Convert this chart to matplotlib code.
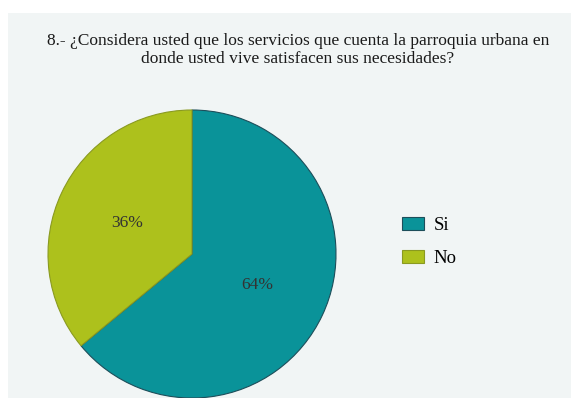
"""Pie chart: satisfaccion con los servicios de la parroquia urbana."""

import matplotlib.pyplot as plt
from matplotlib.patches import Rectangle

labels = ['Si', 'No']
shares = [64, 36]
colors = ['#0a9399', '#adc11c']
edges = ['#1d4e5a', '#8a9a20']

title = ('8.- ¿Considera usted que los servicios que cuenta la parroquia urbana en\n'
         'donde usted vive satisfacen sus necesidades?')

plt.rcParams['font.family'] = ['Liberation Serif', 'DejaVu Serif']

W, H = 571, 398
fig = plt.figure(figsize=(W / 100, H / 100), dpi=100)
fig.patch.set_facecolor('white')

# light panel behind everything
panel = Rectangle((8 / W, 0), 1, 1 - 13 / H, transform=fig.transFigure,
                  facecolor='#f1f5f5', edgecolor='none', zorder=-5)
fig.add_artist(panel)

fig.text(298 / W, 1 - 50 / H, title, ha='center', va='center',
         fontsize=12.5, color='#1a1a1a', linespacing=1.15)

# pie axes: centre (192, 254) px, radius 144 px
r = 144
cx, cy = 192, H - 254
ax = fig.add_axes([(cx - r) / W, (cy - r) / H, 2 * r / W, 2 * r / H])
ax.patch.set_visible(False)
ax.set_zorder(2)
wedges, _, autotexts = ax.pie(
    shares, colors=colors, startangle=90, counterclock=False,
    autopct='%d%%', pctdistance=0.5,
    wedgeprops=dict(linewidth=0.8),
    textprops=dict(fontsize=12.5, color='#333333'),
)
for w, ec in zip(wedges, edges):
    w.set_edgecolor(ec)
    w.set_clip_on(False)
ax.set_xlim(-1, 1)
ax.set_ylim(-1, 1)

leg = fig.legend(wedges, labels, loc='center left', bbox_to_anchor=(385 / W, 1 - 242 / H),
                 frameon=False, fontsize=13.5, handlelength=1.2, handleheight=0.65,
                 labelspacing=0.87, handletextpad=0.5)
for h in leg.legend_handles:
    h.set_linewidth(0.8)

fig.savefig('out.png', dpi=100)
